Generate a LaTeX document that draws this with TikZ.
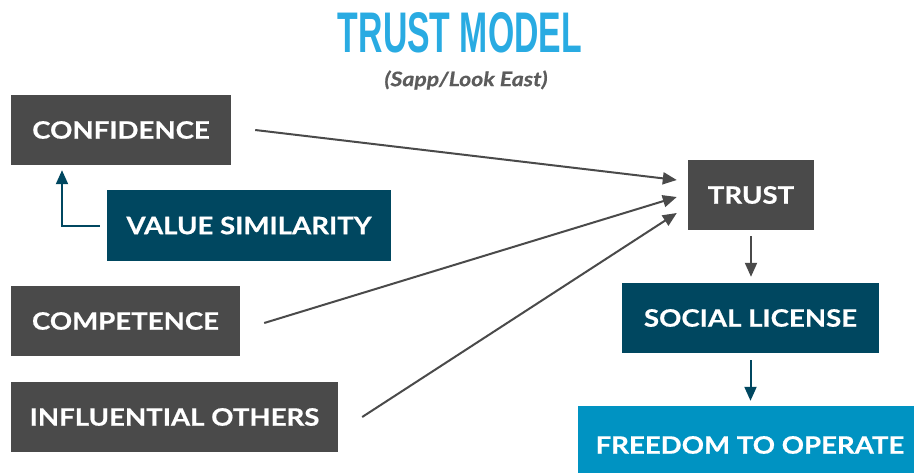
\documentclass[tikz,border=0pt]{standalone}
\usepackage{fontspec}
\setmainfont{Lato}
\newfontfamily\hopchu{Lato}[FakeStretch=1.15, FakeBold=0.6]
\newfontfamily\tieude{Liberation Sans}
\usepackage{xcolor}
\usepackage{tikz}
\usetikzlibrary{arrows.meta}

\definecolor{xamdam}{HTML}{4A4A4A}
\definecolor{xanhdam}{HTML}{004760}
\definecolor{xanhvua}{HTML}{0093C2}
\definecolor{xanhtroi}{HTML}{29ABE2}

\begin{document}
\begin{tikzpicture}[x=1pt, y=-1pt,
    hop/.style={rectangle, fill=#1, text=white, inner sep=0pt,
        minimum height=70pt, font=\hopchu\fontsize{24}{24}\selectfont\bfseries},
    muiten/.style={line width=2pt, -{Triangle[length=14pt, width=12pt]}}]
    \useasboundingbox (0,0) rectangle (914,472);
    \clip (0,0) rectangle (914,472);

    % Tiêu đề
    \node (td) at (460,33) {\resizebox{244pt}{40pt}{\tieude\bfseries\color{xanhtroi}TRUST MODEL}};
    \node (ng) at (466,80) {\hopchu\fontsize{20}{20}\selectfont\bfseries\itshape\color{xamdam!90}(Sapp/Look East)};

    % Các yếu tố bên trái
    \node[hop=xamdam, minimum width=220pt] (conf) at (121,130) {CONFIDENCE};
    \node[hop=xanhdam, minimum width=284pt, minimum height=71pt] (vs) at (249,225.5) {VALUE SIMILARITY};
    \node[hop=xamdam, minimum width=229pt] (comp) at (125.5,321) {COMPETENCE};
    \node[hop=xamdam, minimum width=327pt] (infl) at (174.5,417) {INFLUENTIAL OTHERS};

    % Chuỗi bên phải
    \node[hop=xamdam, minimum width=126pt] (trust) at (751,195) {TRUST};
    \node[hop=xanhdam, minimum width=257pt] (lic) at (750.5,318) {SOCIAL LICENSE};
    \node[hop=xanhvua, minimum width=344pt, minimum height=78pt] (free) at (750,445) {FREEDOM TO OPERATE};

    % Các mũi tên
    \begin{scope}[every path/.style={color=xamdam}]
    \draw[muiten] ([xshift=24pt]conf.east) -- ([xshift=-11pt, yshift=15pt]trust.west);
    \draw[muiten] ([xshift=24pt, yshift=-2pt]comp.east) -- ([xshift=-11pt, yshift=-2pt]trust.west);
    \draw[muiten] ([xshift=24pt]infl.east) -- ([xshift=-11pt, yshift=-18pt]trust.west);
    \draw[muiten, shorten <=6pt, shorten >=6pt] (trust.south) -- (lic.north -| trust.south);
    \end{scope}

    \begin{scope}[every path/.style={color=xanhdam}]
    \draw[muiten, shorten >=5pt] ([xshift=-7pt]vs.west) -| ([xshift=-59pt]conf.south);
    \draw[muiten, shorten <=7pt, shorten >=5pt] (lic.south) -- (free.north -| lic.south);
    \end{scope}

\end{tikzpicture}
\end{document}
